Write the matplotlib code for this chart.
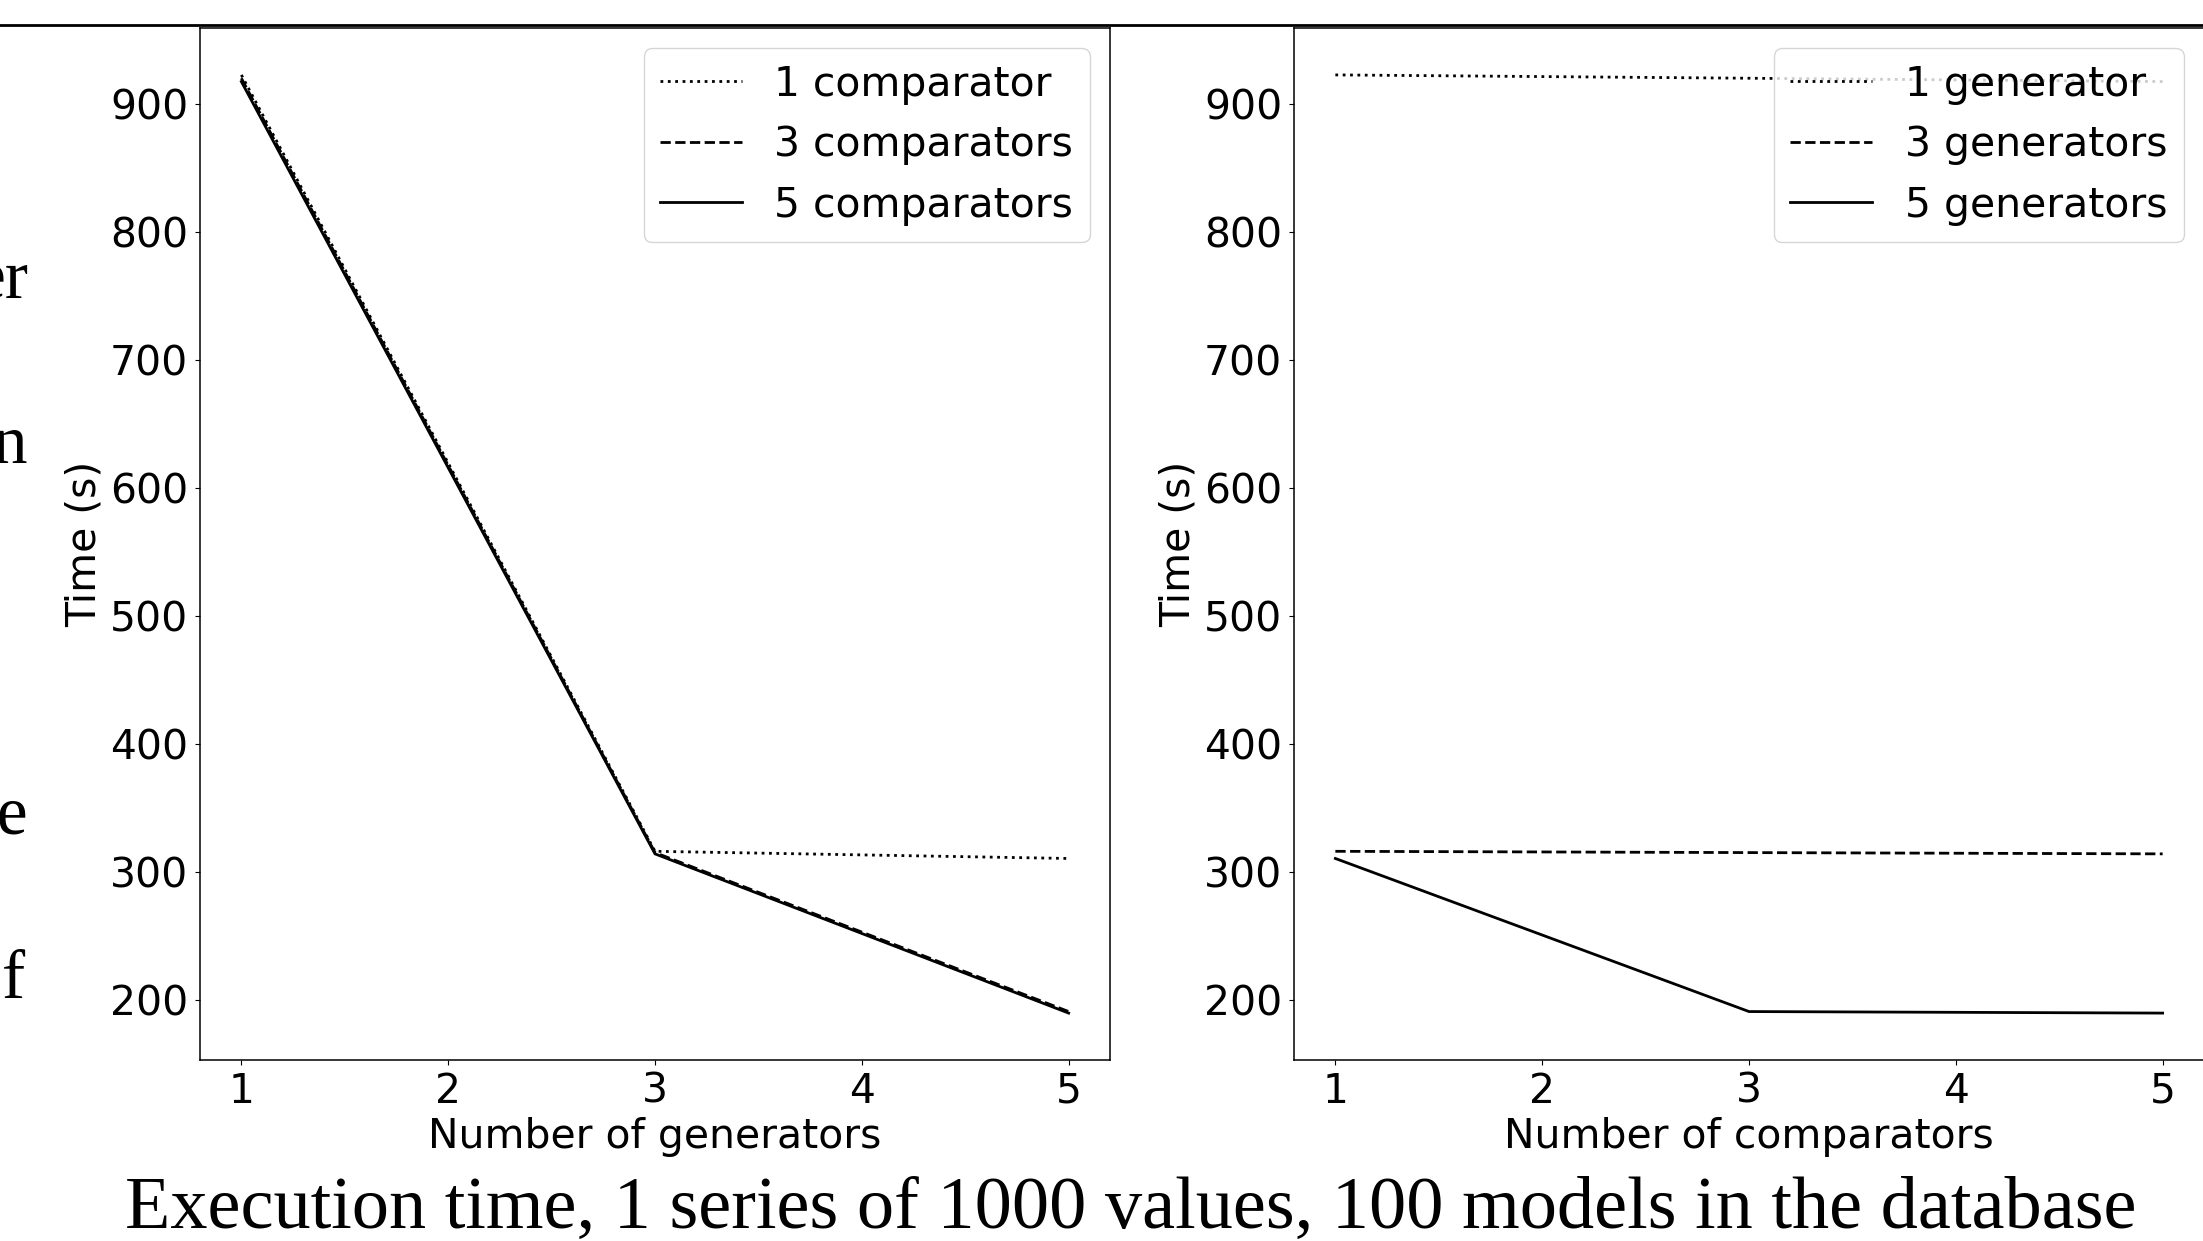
import matplotlib.pyplot as plt
from matplotlib.lines import Line2D

# x values used in both panels
counts = [1, 3, 5]
tick_vals = [1, 2, 3, 4, 5]

# left panel: time vs number of generators, one line per comparator count
gen_1comp = [922.6, 316.0, 310.4]
gen_3comp = [920.0, 315.0, 190.8]
gen_5comp = [917.4, 314.0, 189.6]
left_labels = ['1 comparator', '3 comparators', '5 comparators']

# right panel: time vs number of comparators, one line per generator count
comp_1gen = [922.6, 920.0, 917.4]
comp_3gen = [316.0, 315.0, 314.0]
comp_5gen = [310.4, 190.8, 189.6]
right_labels = ['1 generator', '3 generators', '5 generators']

styles = [':', '--', '-']
caption = 'Execution time, 1 series of 1000 values, 100 models in the database'

W, H = 2203, 1241
fig = plt.figure(figsize=(W / 100, H / 100), dpi=100)

ax1 = fig.add_axes([200 / W, 1 - 1060 / H, 910 / W, 1032 / H])
ax2 = fig.add_axes([1294 / W, 1 - 1060 / H, 910 / W, 1032 / H])

for ax, series, labels, xlabel in [
        (ax1, [gen_1comp, gen_3comp, gen_5comp], left_labels, 'Number of generators'),
        (ax2, [comp_1gen, comp_3gen, comp_5gen], right_labels, 'Number of comparators')]:
    for ys, ls, lab in zip(series, styles, labels):
        ax.plot(counts, ys, color='black', linestyle=ls, linewidth=2, label=lab)
    ax.set_xticks(tick_vals)
    ax.tick_params(labelsize=29.4, pad=5)
    ax.set_xlabel(xlabel, fontsize=29.4)
    ax.set_ylabel('Time (s)', fontsize=29.4)
    for sp in ax.spines.values():
        sp.set_linewidth(1.1)
    ax.legend(loc='upper right', fontsize=29.4)

# rule across the top of the page
fig.add_artist(Line2D([0, 1], [1 - 25 / H, 1 - 25 / H], color='black', linewidth=2,
                      transform=fig.transFigure))

# caption under the figure, sized to span the page width
cap = fig.text(1131 / W, 1 - 1228 / H, caption, ha='center', va='baseline',
               family='Liberation Serif', fontsize=50)
fig.canvas.draw()
w = cap.get_window_extent().width
cap.set_fontsize(50 * 2014 / w)

# bits of body text cut off at the left edge
for s, xr, yb in [('er', 28, 298), ('on', 28, 463), ('ne', 28, 833), ('f', 25, 998)]:
    fig.text(xr / W, 1 - yb / H, s, ha='right', va='baseline',
             family='Liberation Serif', fontsize=50)

fig.savefig('out.png', dpi=100)
